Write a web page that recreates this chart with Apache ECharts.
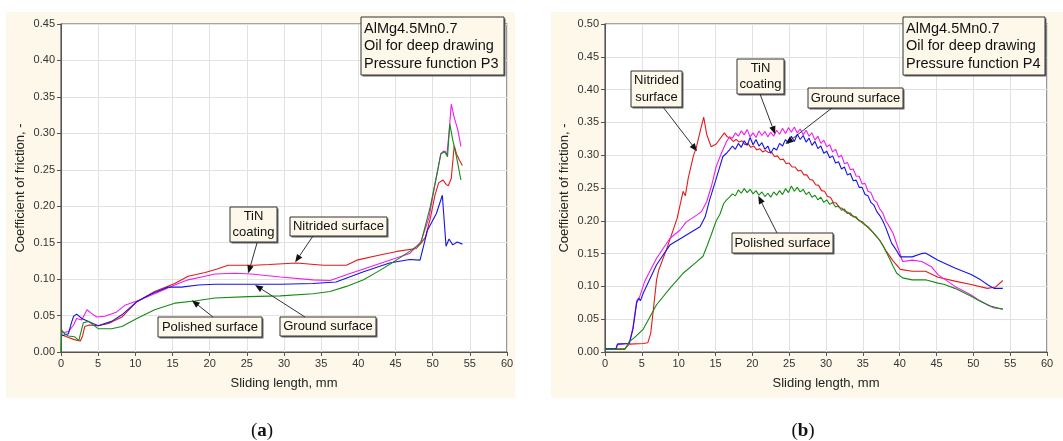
<!DOCTYPE html>
<html>
<head>
<meta charset="utf-8">
<script src="https://cdn.jsdelivr.net/npm/echarts@6/dist/echarts.min.js"></script>
<style>
html,body{margin:0;padding:0;background:#fff;}
#chart{width:1063px;height:441px;}
</style>
</head>
<body>
<div id="chart"></div>
<script>
// ---------- DATA ----------
const xTicks = [0,5,10,15,20,25,30,35,40,45,50,55,60];
const seriesNames = ['Nitrided surface','TiN coating','Ground surface','Polished surface'];
const infoA = ['AlMg4.5Mn0.7','Oil for deep drawing','Pressure function P3'];
const infoB = ['AlMg4.5Mn0.7','Oil for deep drawing','Pressure function P4'];

// Panel (a) – P3
const a_nitrided = [[0,0.024],[0.5,0.022],[1,0.02],[1.8,0.017],[2.6,0.015],[2.9,0.022],[3.2,0.035],[3.8,0.037],[5,0.036],[6.4,0.039],[8.2,0.048],[10.2,0.069],[12.6,0.083],[15.3,0.094],[17.1,0.104],[19.4,0.109],[21,0.114],[22.5,0.119],[26,0.119],[28,0.12],[31.7,0.122],[35.3,0.119],[38.4,0.119],[39.8,0.126],[42.9,0.133],[45.2,0.138],[47.8,0.142],[48.4,0.149],[49,0.157],[49.7,0.184],[50.3,0.215],[50.8,0.232],[51.4,0.236],[51.8,0.23],[52.1,0.228],[52.5,0.238],[52.9,0.283],[53.2,0.272],[53.6,0.263],[54,0.256]];
const a_tin = [[0,0.026],[0.5,0.027],[1,0.028],[1.7,0.037],[2.1,0.046],[2.8,0.044],[3.5,0.058],[4.1,0.053],[4.8,0.048],[5.9,0.049],[7.5,0.055],[8.6,0.064],[10.2,0.07],[12.6,0.08],[15.3,0.092],[17.1,0.099],[18.9,0.103],[20.7,0.107],[23.4,0.108],[25.6,0.107],[29.5,0.103],[33.9,0.099],[36.2,0.098],[38.4,0.106],[41.6,0.117],[44.2,0.126],[46.9,0.135],[48.4,0.151],[49.5,0.184],[50.3,0.23],[51.1,0.272],[51.5,0.276],[51.9,0.27],[52.2,0.3],[52.5,0.34],[52.9,0.322],[53.4,0.304],[53.8,0.282]];
const a_ground = [[0,0.022],[1,0.025],[1.4,0.04],[1.7,0.049],[2.1,0.052],[2.8,0.046],[3.7,0.042],[4.3,0.039],[5,0.036],[6.8,0.042],[8.2,0.051],[10.2,0.069],[12.2,0.08],[14.4,0.089],[16.2,0.089],[18.5,0.092],[20.7,0.093],[25.2,0.093],[29.5,0.093],[33.9,0.094],[37,0.096],[40.7,0.11],[44.2,0.122],[46.9,0.127],[48.3,0.126],[49.3,0.167],[50.5,0.19],[51.3,0.215],[51.8,0.145],[52.2,0.155],[52.7,0.147],[53.3,0.151],[54,0.148]];
const a_polished = [[0,0.0],[0.1,0.03],[0.5,0.025],[1,0.022],[1.8,0.021],[2.4,0.016],[3,0.04],[3.7,0.042],[5,0.032],[6.8,0.032],[8.2,0.035],[10.2,0.046],[12.6,0.058],[15.3,0.067],[18,0.07],[20.7,0.074],[25.2,0.076],[29.5,0.077],[33.9,0.08],[36.2,0.083],[38.4,0.09],[40.7,0.099],[42.9,0.112],[45.1,0.126],[46.9,0.138],[48.4,0.149],[49.7,0.2],[50.6,0.245],[51.1,0.272],[51.7,0.275],[52,0.268],[52.3,0.313],[52.7,0.291],[53.2,0.268],[53.8,0.236]];

// Panel (b) – P4 (noisy traces, points read by hand)
const b_nitrided = [[0,0.005],[2.7,0.005],[3.3,0.012],[5.2,0.013],[5.8,0.014],[6.2,0.028],[6.5,0.058],[7,0.11],[7.3,0.125],[8.4,0.158],[9.8,0.204],[10.6,0.245],[10.9,0.238],[11.3,0.265],[12,0.299],[12.4,0.312],[13,0.34],[13.4,0.358],[13.8,0.332],[14.4,0.313],[15.1,0.317],[16.2,0.334],[16.6,0.328],[17,0.326],[17.4,0.321],[17.8,0.324],[18.2,0.32],[18.6,0.322],[19,0.316],[19.4,0.318],[19.8,0.312],[20.2,0.314],[20.6,0.308],[21,0.31],[21.4,0.305],[21.8,0.307],[22.2,0.304],[22.6,0.305],[23,0.298],[23.4,0.299],[23.8,0.293],[24.2,0.294],[24.6,0.287],[25,0.288],[25.4,0.282],[25.8,0.282],[26.2,0.276],[26.6,0.277],[27,0.27],[27.4,0.27],[27.8,0.263],[28.2,0.262],[28.6,0.255],[29,0.254],[29.4,0.246],[29.8,0.245],[30.2,0.237],[30.6,0.236],[31,0.228],[31.4,0.227],[31.8,0.22],[32.2,0.219],[32.6,0.214],[33,0.213],[33.4,0.208],[33.8,0.207],[34.2,0.203],[34.6,0.2],[35,0.196],[35.5,0.192],[36.4,0.182],[37.3,0.17],[38.1,0.155],[39.1,0.139],[40.1,0.126],[41.7,0.123],[43.5,0.123],[45.2,0.114],[47.5,0.108],[49.7,0.103],[51.9,0.097],[53,0.099],[54,0.109]];
const b_tin = [[0,0.005],[1.5,0.005],[1.7,0.012],[3.3,0.013],[3.8,0.038],[4.3,0.078],[4.7,0.084],[5.4,0.108],[7,0.143],[8.8,0.173],[10.2,0.186],[11,0.198],[12.5,0.209],[13.1,0.214],[13.8,0.229],[14.5,0.255],[15.1,0.283],[15.8,0.303],[16.5,0.321],[16.9,0.328],[17.3,0.326],[17.7,0.334],[18.1,0.329],[18.5,0.337],[18.9,0.331],[19.3,0.339],[19.7,0.328],[20.1,0.334],[20.5,0.327],[20.9,0.337],[21.3,0.33],[21.7,0.336],[22.1,0.328],[22.5,0.335],[22.9,0.329],[23.3,0.338],[23.7,0.332],[24.1,0.341],[24.5,0.333],[24.9,0.342],[25.3,0.335],[25.7,0.343],[26.1,0.334],[26.5,0.34],[26.9,0.331],[27.3,0.338],[27.7,0.329],[28.1,0.334],[28.5,0.323],[28.9,0.329],[29.3,0.318],[29.7,0.323],[30.1,0.313],[30.5,0.316],[30.9,0.305],[31.3,0.309],[31.7,0.297],[32.1,0.3],[32.5,0.287],[32.9,0.289],[33.3,0.278],[33.7,0.279],[34.1,0.268],[34.5,0.268],[34.9,0.256],[35.3,0.257],[35.7,0.245],[36.1,0.243],[36.5,0.232],[36.9,0.228],[37.3,0.218],[37.7,0.212],[38.1,0.2],[38.5,0.193],[39.1,0.181],[40.4,0.138],[41.7,0.14],[43,0.138],[44.3,0.13],[45.2,0.118],[47.5,0.1],[49.7,0.087],[50.6,0.08],[51.9,0.072],[52.8,0.067],[54,0.066]];
const b_ground = [[0,0.005],[1.5,0.005],[1.7,0.012],[3.3,0.013],[3.8,0.035],[4.3,0.075],[4.6,0.082],[4.8,0.078],[5.2,0.09],[7,0.133],[8.8,0.163],[11,0.178],[12.9,0.191],[13.6,0.206],[14.2,0.232],[14.9,0.257],[15.6,0.283],[16,0.298],[16.5,0.303],[16.9,0.308],[17.3,0.314],[17.7,0.309],[18.1,0.318],[18.5,0.312],[18.9,0.322],[19.3,0.315],[19.7,0.327],[20.1,0.316],[20.5,0.324],[20.9,0.314],[21.3,0.319],[21.7,0.309],[22.1,0.314],[22.5,0.303],[22.9,0.311],[23.3,0.308],[23.7,0.318],[24.1,0.314],[24.5,0.324],[24.9,0.318],[25.3,0.329],[25.7,0.321],[26.1,0.332],[26.5,0.324],[26.9,0.33],[27.3,0.32],[27.7,0.326],[28.1,0.315],[28.5,0.321],[28.9,0.31],[29.3,0.314],[29.7,0.303],[30.1,0.306],[30.5,0.296],[30.9,0.299],[31.3,0.288],[31.7,0.29],[32.1,0.279],[32.5,0.282],[32.9,0.27],[33.3,0.272],[33.7,0.261],[34.1,0.262],[34.5,0.251],[34.9,0.251],[35.3,0.24],[35.7,0.238],[36.1,0.228],[36.5,0.224],[36.9,0.214],[37.3,0.208],[37.7,0.2],[38.1,0.19],[38.5,0.178],[38.9,0.166],[39.5,0.156],[40.1,0.145],[41.7,0.145],[43,0.15],[43.5,0.151],[45.2,0.14],[47.5,0.128],[49.7,0.118],[51,0.11],[51.9,0.103],[52.8,0.097],[54,0.097]];
const b_polished = [[0,0.004],[2.7,0.004],[3.3,0.016],[4,0.022],[5.2,0.035],[7,0.072],[8.8,0.097],[10.6,0.12],[12.4,0.137],[13.3,0.146],[13.8,0.16],[14.4,0.178],[15.1,0.2],[15.6,0.21],[16.1,0.226],[16.5,0.232],[16.9,0.236],[17.3,0.241],[17.7,0.238],[18.1,0.247],[18.5,0.242],[18.9,0.249],[19.3,0.243],[19.7,0.248],[20.1,0.241],[20.5,0.246],[20.9,0.239],[21.3,0.244],[21.7,0.237],[22.1,0.242],[22.5,0.236],[22.9,0.244],[23.3,0.239],[23.7,0.246],[24.1,0.24],[24.5,0.249],[24.9,0.243],[25.3,0.253],[25.7,0.245],[26.1,0.251],[26.5,0.244],[26.9,0.248],[27.3,0.24],[27.7,0.244],[28.1,0.236],[28.5,0.239],[28.9,0.232],[29.3,0.236],[29.7,0.228],[30.1,0.232],[30.5,0.225],[30.9,0.228],[31.3,0.221],[31.7,0.223],[32.1,0.216],[32.5,0.218],[32.9,0.211],[33.3,0.212],[33.7,0.206],[34.1,0.206],[34.5,0.2],[34.9,0.199],[35.3,0.194],[35.7,0.191],[36.1,0.186],[36.5,0.181],[36.9,0.176],[37.3,0.17],[37.7,0.163],[38.1,0.154],[38.6,0.143],[39.1,0.131],[39.6,0.12],[40.4,0.113],[41.7,0.11],[43.5,0.11],[45.2,0.105],[46.1,0.103],[47.5,0.097],[49.7,0.085],[51,0.077],[52.3,0.07],[54,0.065]];

// annotation arrow tips (data coords)
const tipsA = [[31.5,0.123],[25.2,0.108],[26.1,0.092],[17.6,0.071]];
const tipsB = [[12.5,0.306],[23.1,0.332],[24.5,0.317],[20.8,0.238]];

// ---------- STYLE ----------
const colors = ['#e31a1a','#f01cf0','#1414e6','#168a16'];
const FONT = '"Liberation Sans", Arial, sans-serif';
const cream = '#fdf8ea';

const chart = echarts.init(document.getElementById('chart'), null, {renderer:'canvas'});

function axisX(gi){
  return {
    type:'value', gridIndex:gi, min:0, max:60, interval:5,
    name:'Sliding length, mm', nameLocation:'middle', nameGap:25,
    nameTextStyle:{fontFamily:FONT, fontSize:13, color:'#222'},
    axisLine:{show:true, onZero:false, lineStyle:{color:'#555', width:1}},
    axisTick:{show:true, length:4, lineStyle:{color:'#555'}},
    axisLabel:{fontFamily:FONT, fontSize:11, color:'#333', margin:6,
      customValues:xTicks, formatter:v=>String(v)},
    splitLine:{show:true, lineStyle:{color:'#e2e2e2', width:1}}
  };
}
function axisY(gi, max){
  return {
    type:'value', gridIndex:gi, min:0, max:max, interval:0.05,
    name:'Coefficient of friction, -', nameLocation:'middle', nameGap:34,
    nameTextStyle:{fontFamily:FONT, fontSize:13, color:'#222'},
    axisLine:{show:true, lineStyle:{color:'#555', width:1}},
    axisTick:{show:true, length:4, lineStyle:{color:'#555'}},
    axisLabel:{fontFamily:FONT, fontSize:11, color:'#333', margin:6, formatter:v=>v.toFixed(2)},
    splitLine:{show:true, lineStyle:{color:'#e2e2e2', width:1}}
  };
}
function line(name, data, ci, gi){
  return {type:'line', name:name, xAxisIndex:gi, yAxisIndex:gi, data:data,
    showSymbol:false, symbol:'none', smooth:false, animation:false,
    lineStyle:{color:colors[ci], width:1.1}, z:3};
}

chart.setOption({
  backgroundColor:'#ffffff',
  animation:false,
  grid:[
    {left:61, top:24, width:446, height:328, show:true, backgroundColor:'#ffffff', borderColor:'#555', borderWidth:1.2},
    {left:605, top:24, width:442, height:328, show:true, backgroundColor:'#ffffff', borderColor:'#555', borderWidth:1.2}
  ],
  xAxis:[axisX(0), axisX(1)],
  yAxis:[axisY(0,0.45), axisY(1,0.50)],
  series:[
    line(seriesNames[0], a_nitrided, 0, 0),
    line(seriesNames[1], a_tin, 1, 0),
    line(seriesNames[2], a_ground, 2, 0),
    line(seriesNames[3], a_polished, 3, 0),
    line(seriesNames[0], b_nitrided, 0, 1),
    line(seriesNames[1], b_tin, 1, 1),
    line(seriesNames[2], b_ground, 2, 1),
    line(seriesNames[3], b_polished, 3, 1)
  ]
});

// ---------- ANNOTATIONS ----------
function boxEls(x, y, w, h, lines, align, fs, lh){
  const tx = align === 'left' ? x + 3 : x + w/2;
  return [
    {type:'rect', shape:{x:x+1.5, y:y+1.5, width:w, height:h}, style:{fill:'#666'}, z:10},
    {type:'rect', shape:{x:x, y:y, width:w, height:h}, style:{fill:cream, stroke:'#333', lineWidth:1}, z:11},
    {type:'text', x:tx, y:y + h/2, style:{text:lines.join('\n'), font:fs+'px '+FONT, fill:'#111',
      align:align, verticalAlign:'middle', lineHeight:lh}, z:12}
  ];
}
function arrowEls(x0, y0, x1, y1){
  const dx = x1-x0, dy = y1-y0, L = Math.sqrt(dx*dx+dy*dy);
  const ux = dx/L, uy = dy/L, hl = 8, hw = 3.2;
  const bx = x1 - ux*hl, by = y1 - uy*hl;
  return [
    {type:'line', shape:{x1:x0, y1:y0, x2:bx, y2:by}, style:{stroke:'#333', lineWidth:1}, z:12},
    {type:'polygon', shape:{points:[[x1,y1],[bx - uy*hw, by + ux*hw],[bx + uy*hw, by - ux*hw]]}, style:{fill:'#111'}, z:12}
  ];
}

const els = [];
els.push({type:'rect', shape:{x:6, y:12, width:509, height:386}, style:{fill:cream}, z:-10, silent:true});
els.push({type:'rect', shape:{x:551, y:12, width:512, height:386}, style:{fill:cream}, z:-10, silent:true});

const boxesA = [
  [290,217,97,19,['Nitrided surface'],[313,236]],
  [230,207,47,35,['TiN','coating'],[257,243]],
  [280,317,96,19,['Ground surface'],[305,317]],
  [158,317,104,20,['Polished surface'],[213,317]]
];
const boxesB = [
  [631,71,51,36,['Nitrided','surface'],[663,107]],
  [737,59,47,35,['TiN','coating'],[760,94]],
  [808,88,95,20,['Ground surface'],[832,108]],
  [732,233,101,20,['Polished surface'],[777,233]]
];
boxesA.forEach((b,i)=>{
  const p = chart.convertToPixel({gridIndex:0}, tipsA[i]);
  arrowEls(b[5][0], b[5][1], p[0], p[1]).forEach(e=>els.push(e));
  boxEls(b[0],b[1],b[2],b[3],b[4],'center',13,16.5).forEach(e=>els.push(e));
});
boxesB.forEach((b,i)=>{
  const p = chart.convertToPixel({gridIndex:1}, tipsB[i]);
  arrowEls(b[5][0], b[5][1], p[0], p[1]).forEach(e=>els.push(e));
  boxEls(b[0],b[1],b[2],b[3],b[4],'center',13,16.5).forEach(e=>els.push(e));
});
boxEls(361,17,143,58,infoA,'left',14.5,17.5).forEach(e=>els.push(e));
boxEls(903,17,142,58,infoB,'left',14.5,17.5).forEach(e=>els.push(e));

function panelLabel(cx, letter){
  return {type:'text', x:cx, y:431, z:12, style:{
    text:'{p|(}{b|'+letter+'}{p|)}', align:'center', verticalAlign:'middle',
    rich:{p:{font:'19px "Liberation Serif", "DejaVu Serif", serif', fill:'#111'},
          b:{font:'bold 19px "Liberation Serif", "DejaVu Serif", serif', fill:'#111'}}
  }};
}
els.push(panelLabel(262,'a'));
els.push(panelLabel(803,'b'));

chart.setOption({graphic:{elements:els}});
</script>
</body>
</html>
